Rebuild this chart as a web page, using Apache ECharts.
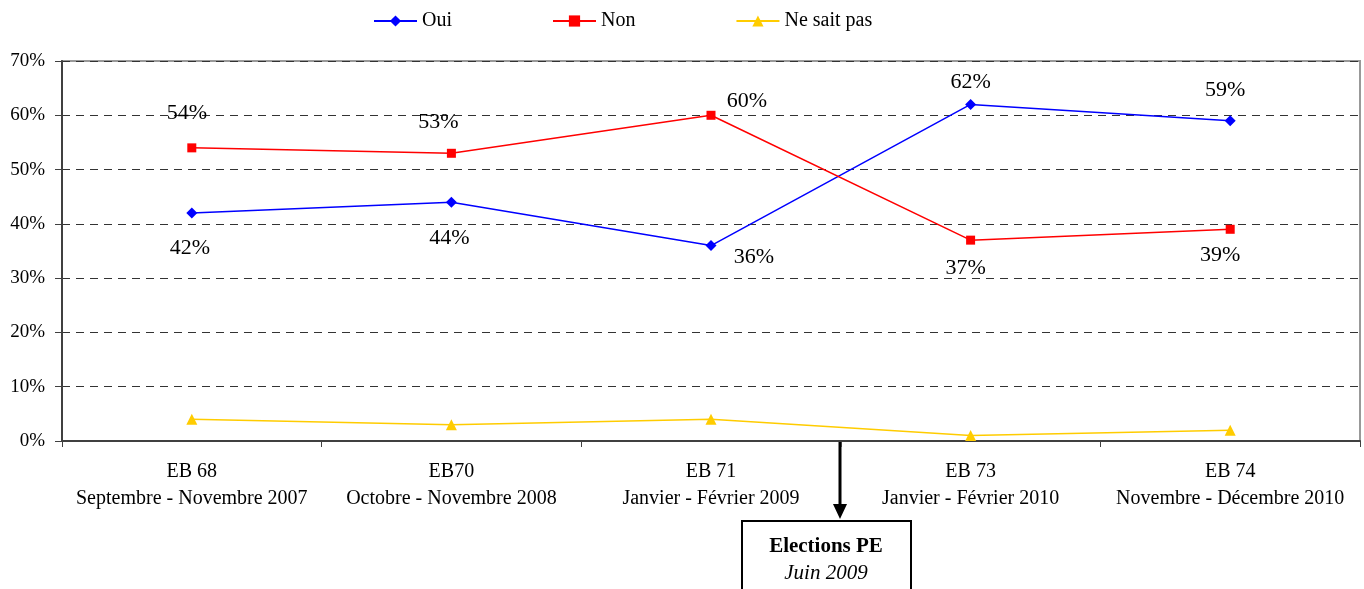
<!DOCTYPE html>
<html>
<head>
<meta charset="utf-8">
<script src="https://cdn.jsdelivr.net/npm/echarts@6/dist/echarts.min.js"></script>
<style>
  html, body { margin: 0; padding: 0; background: #fff; }
  #chart { width: 1364px; height: 589px; }
</style>
</head>
<body>
<div id="chart"></div>
<script>
var categories = [
  "EB 68\nSeptembre - Novembre 2007",
  "EB70\nOctobre - Novembre 2008",
  "EB 71\nJanvier - Février 2009",
  "EB 73\nJanvier - Février 2010",
  "EB 74\nNovembre - Décembre 2010"
];
var oui = [42, 44, 36, 62, 59];
var non = [54, 53, 60, 37, 39];
var nsp = [4, 3, 4, 1, 2];
var yTicks = [0, 10, 20, 30, 40, 50, 60, 70];

// where each value label sits relative to its point
var ouiLabelOffset = [[-2, 35], [-2, 36], [43, 12], [0, -22], [-5, -30]];
var nonLabelOffset = [[-5, -35], [-13, -31], [36, -14], [-5, 28], [-10, 26]];

var serif = "'Liberation Serif', 'Times New Roman', serif";

function withLabels(values, offsets) {
  return values.map(function (v, i) {
    return {
      value: v,
      label: {
        show: true,
        position: "inside",
        offset: offsets[i],
        formatter: "{c}%",
        fontFamily: serif,
        fontSize: 22,
        color: "#000",
      },
    };
  });
}

var chart = echarts.init(document.getElementById("chart"));
var option = {
  animation: false,
  textStyle: { fontFamily: serif },
  legend: {
    top: 6,
    left: 368,
    itemWidth: 43,
    itemHeight: 14,
    itemGap: 100,
    textStyle: { fontFamily: serif, fontSize: 20, color: "#000" },
    data: ["Oui", "Non", "Ne sait pas"],
  },
  grid: {
    left: 62,
    right: 4,
    top: 61,
    bottom: 148,
    show: true,
    borderColor: "#999",
    borderWidth: 2,
  },
  xAxis: {
    type: "category",
    data: categories,
    boundaryGap: true,
    axisLine: { lineStyle: { color: "#404040", width: 2 } },
    axisTick: { show: true, length: 6, lineStyle: { color: "#404040" } },
    axisLabel: {
      fontFamily: serif,
      fontSize: 20,
      color: "#000",
      lineHeight: 27,
      margin: 17,
      interval: 0,
    },
  },
  yAxis: {
    type: "value",
    min: yTicks[0],
    max: yTicks[yTicks.length - 1],
    interval: 10,
    axisLine: { show: true, lineStyle: { color: "#404040", width: 2 } },
    axisTick: { show: true, length: 7, lineStyle: { color: "#404040" } },
    axisLabel: {
      formatter: "{value}%",
      fontFamily: serif,
      fontSize: 19,
      color: "#000",
      margin: 17,
    },
    splitLine: {
      show: true,
      lineStyle: { color: "#333", type: [8, 6], width: 1 },
    },
  },
  series: [
    {
      name: "Oui",
      type: "line",
      data: withLabels(oui, ouiLabelOffset),
      symbol: "diamond",
      symbolSize: 11,
      color: "#0000FF",
      lineStyle: { width: 1.5, color: "#0000FF" },
      itemStyle: { color: "#0000FF" },
      z: 3,
    },
    {
      name: "Non",
      type: "line",
      data: withLabels(non, nonLabelOffset),
      symbol: "rect",
      symbolSize: 9,
      color: "#FF0000",
      lineStyle: { width: 1.5, color: "#FF0000" },
      itemStyle: { color: "#FF0000" },
      z: 3,
    },
    {
      name: "Ne sait pas",
      type: "line",
      data: nsp,
      symbol: "triangle",
      symbolSize: 11,
      color: "#FFCC00",
      lineStyle: { width: 1.5, color: "#FFCC00" },
      itemStyle: { color: "#FFCC00" },
      z: 3,
    },
  ],
  graphic: [
    {
      type: "line",
      shape: { x1: 840, y1: 442, x2: 840, y2: 506 },
      style: { stroke: "#000", lineWidth: 3 },
    },
    {
      type: "polygon",
      shape: { points: [[833, 504], [847, 504], [840, 519]] },
      style: { fill: "#000" },
    },
    {
      type: "rect",
      shape: { x: 742, y: 521, width: 169, height: 80 },
      style: { fill: "#fff", stroke: "#000", lineWidth: 2 },
    },
    {
      type: "text",
      x: 826,
      y: 547,
      style: {
        text: "Elections PE",
        font: "bold 21px " + serif,
        fill: "#000",
        align: "center",
        verticalAlign: "middle",
      },
    },
    {
      type: "text",
      x: 826,
      y: 573,
      style: {
        text: "Juin 2009",
        font: "italic 21px " + serif,
        fill: "#000",
        align: "center",
        verticalAlign: "middle",
      },
    },
  ],
};
chart.setOption(option);
</script>
</body>
</html>
